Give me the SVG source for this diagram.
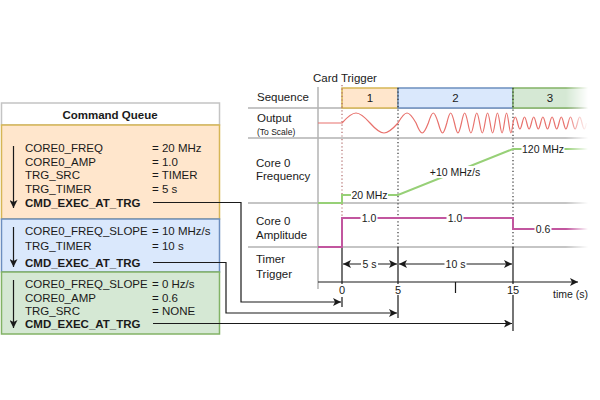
<svg xmlns="http://www.w3.org/2000/svg" width="600" height="400" viewBox="0 0 600 400">
<style>
.t{font-family:"Liberation Sans",Arial,sans-serif;font-size:11.5px;fill:#1a1a1a}
.s{font-size:10.5px}
.b{font-weight:bold}
.m{text-anchor:middle}
.row{stroke:#b3b3b3;stroke-width:1.5;fill:none}
.blk{stroke:#1a1a1a;stroke-width:1.2;fill:none}
.dot{stroke:#333;stroke-width:1.2;stroke-dasharray:1.2 2.4;fill:none}
.bg{fill:#fff}
</style>
<defs>
<marker id="ah" viewBox="0 0 10 10" refX="10" refY="5" markerWidth="8" markerHeight="8" markerUnits="userSpaceOnUse" orient="auto-start-reverse">
<path d="M0,0 L10,5 L0,10 L2.5,5 z" fill="#1a1a1a"/>
</marker>
<linearGradient id="fg" gradientUnits="userSpaceOnUse" x1="566" y1="0" x2="588" y2="0">
<stop offset="0" stop-color="#fff"/>
<stop offset="1" stop-color="#000"/>
</linearGradient>
<mask id="fade" maskUnits="userSpaceOnUse" x="0" y="0" width="600" height="400">
<rect x="0" y="0" width="600" height="400" fill="url(#fg)"/>
</mask>
</defs>

<!-- Command queue -->
<g id="queue-header">
<rect x="1.5" y="103" width="218" height="22" fill="#fff" stroke="#c4c4c4" stroke-width="1.5"/>
<text class="t b m" x="110" y="119">Command Queue</text>
</g>
<g id="block-1">
<rect x="1.5" y="125" width="218" height="94" fill="#ffe6cc" stroke="#d6b656" stroke-width="1.5"/>
<line class="blk" x1="13.5" y1="146" x2="13.5" y2="208" marker-end="url(#ah)"/>
<text class="t" x="25" y="152">CORE0_FREQ</text><text class="t" x="152" y="152">= 20 MHz</text>
<text class="t" x="25" y="166">CORE0_AMP</text><text class="t" x="152" y="166">= 1.0</text>
<text class="t" x="25" y="179">TRG_SRC</text><text class="t" x="152" y="179">= TIMER</text>
<text class="t" x="25" y="192.5">TRG_TIMER</text><text class="t" x="152" y="192.5">= 5 s</text>
<text class="t b" x="25" y="206.5">CMD_EXEC_AT_TRG</text>
</g>
<g id="block-2">
<rect x="1.5" y="219" width="218" height="53" fill="#dae8fc" stroke="#6c8ebf" stroke-width="1.5"/>
<line class="blk" x1="13.5" y1="227" x2="13.5" y2="267" marker-end="url(#ah)"/>
<text class="t" x="25" y="234.5">CORE0_FREQ_SLOPE</text><text class="t" x="152" y="234.5">= 10 MHz/s</text>
<text class="t" x="25" y="250">TRG_TIMER</text><text class="t" x="152" y="250">= 10 s</text>
<text class="t b" x="25" y="266.5">CMD_EXEC_AT_TRG</text>
</g>
<g id="block-3">
<rect x="1.5" y="272" width="218" height="62" fill="#d5e8d4" stroke="#82b366" stroke-width="1.5"/>
<line class="blk" x1="13.5" y1="280" x2="13.5" y2="328" marker-end="url(#ah)"/>
<text class="t" x="25" y="288">CORE0_FREQ_SLOPE</text><text class="t" x="152" y="288">= 0 Hz/s</text>
<text class="t" x="25" y="301.5">CORE0_AMP</text><text class="t" x="152" y="301.5">= 0.6</text>
<text class="t" x="25" y="314.5">TRG_SRC</text><text class="t" x="152" y="314.5">= NONE</text>
<text class="t b" x="25" y="327.5">CMD_EXEC_AT_TRG</text>
</g>

<!-- Timeline frame -->
<g id="timeline-frame">
<path class="row" d="M248,108 H588 M248,138 H588 M248,203 H588 M248,247 H588" mask="url(#fade)"/>
<line x1="318" y1="87" x2="318" y2="289" stroke="#b3b3b3" stroke-width="1.5"/>
<text class="t" x="257" y="101">Sequence</text>
<text class="t" x="257" y="122">Output</text>
<text class="t" x="257" y="134.5" style="font-size:8.5px">(To Scale)</text>
<text class="t" x="256" y="167">Core 0</text>
<text class="t" x="256" y="180">Frequency</text>
<text class="t" x="256" y="225">Core 0</text>
<text class="t" x="256" y="239">Amplitude</text>
<text class="t" x="256" y="263">Timer</text>
<text class="t" x="256" y="278">Trigger</text>
<text class="t m" x="345" y="82">Card Trigger</text>
</g>

<g id="seq-1">
<rect x="342" y="88" width="56" height="20" fill="#ffe6cc" stroke="#d6b656" stroke-width="1.5"/>
<text class="t m" x="370" y="102">1</text>
</g>
<g id="seq-2">
<rect x="398" y="88" width="115" height="20" fill="#dae8fc" stroke="#6c8ebf" stroke-width="1.5"/>
<text class="t m" x="455.5" y="102">2</text>
</g>
<g id="seq-3">
<g mask="url(#fade)">
<rect x="513" y="88" width="76" height="20" fill="#d5e8d4"/>
<path d="M590,88 H513 V108 H590" fill="none" stroke="#82b366" stroke-width="1.5"/>
</g>
<text class="t m" x="550" y="102">3</text>
</g>

<g id="markers">
<path class="dot" d="M342,85 V218" style="stroke:#b06a6a"/>
<path class="dot" d="M398,88 V247 M513,88 V247"/>
<path class="blk" d="M342,247 V284 M398,247 V284 M513,247 V284 M455.5,282 V293 M342,297 V307 M398,295 V318 M513,295 V331"/>
</g>

<g id="output-wave">
<path fill="none" stroke="#e8716c" stroke-width="1.2" mask="url(#fade)" d="M318,123 H342 c 11.88,-13.33 16.12,-13.33 28,0 c 11.88,13.33 16.12,13.33 28,0
c 7.66,-13.33 10.40,-13.33 18.06,0
c 5.20,13.33 7.06,13.33 12.26,0
c 4.21,-13.33 5.72,-13.33 9.93,0
c 3.64,13.33 4.93,13.33 8.57,0
c 3.25,-13.33 4.40,-13.33 7.65,0
c 2.96,13.33 4.01,13.33 6.97,0
c 2.74,-13.33 3.71,-13.33 6.45,0
c 2.56,13.33 3.48,13.33 6.04,0
c 2.41,-13.33 3.27,-13.33 5.68,0
c 2.29,13.33 3.10,13.33 5.39,0
c 2.18,-13.33 2.96,-13.33 5.14,0
c 2.09,13.33 2.83,13.33 4.92,0
c 2.01,-13.33 2.72,-13.33 4.73,0
c 1.93,13.33 2.62,13.33 4.55,0
c 1.87,-13.33 2.53,-13.33 4.40,0
c 1.81,13.33 2.45,13.33 4.26,0
c 1.95,-8 2.65,-8 4.6,0 c 1.95,8 2.65,8 4.6,0
c 1.95,-8 2.65,-8 4.6,0 c 1.95,8 2.65,8 4.6,0
c 1.95,-8 2.65,-8 4.6,0 c 1.95,8 2.65,8 4.6,0
c 1.95,-8 2.65,-8 4.6,0 c 1.95,8 2.65,8 4.6,0
c 1.95,-8 2.65,-8 4.6,0 c 1.95,8 2.65,8 4.6,0
c 1.95,-8 2.65,-8 4.6,0 c 1.95,8 2.65,8 4.6,0
c 1.95,-8 2.65,-8 4.6,0 c 1.95,8 2.65,8 4.6,0
c 1.95,-8 2.65,-8 4.6,0 c 1.95,8 2.65,8 4.6,0"/>
</g>

<g id="frequency-trace">
<path fill="none" stroke="#97d077" stroke-width="2" mask="url(#fade)" d="M318,203 H342 V195 H398 L513,149 H590"/>
<rect class="bg" x="351" y="189" width="37" height="12"/>
<text class="t s m" x="369.5" y="198.7">20 MHz</text>
<rect class="bg" x="429.5" y="166" width="51" height="12"/>
<text class="t s m" x="455" y="175.7">+10 MHz/s</text>
<rect class="bg" x="521.5" y="143" width="43" height="12"/>
<text class="t s m" x="543" y="152.7">120 MHz</text>
</g>

<g id="amplitude-trace">
<path fill="none" stroke="#c2569f" stroke-width="2" mask="url(#fade)" d="M318,247 H342 V218 H513 V229 H590"/>
<rect class="bg" x="360.5" y="212" width="17" height="12"/>
<text class="t s m" x="369" y="221.7">1.0</text>
<rect class="bg" x="446.5" y="212" width="17" height="12"/>
<text class="t s m" x="455" y="221.7">1.0</text>
<rect class="bg" x="534.5" y="223" width="17" height="12"/>
<text class="t s m" x="543" y="232.7">0.6</text>
</g>

<g id="timer-trigger">
<line class="blk" x1="343" y1="264" x2="397" y2="264" marker-start="url(#ah)" marker-end="url(#ah)"/>
<rect class="bg" x="361" y="258" width="17" height="12"/>
<text class="t s m" x="369.5" y="267.7">5 s</text>
<line class="blk" x1="399" y1="264" x2="512" y2="264" marker-start="url(#ah)" marker-end="url(#ah)"/>
<rect class="bg" x="444.5" y="258" width="22" height="12"/>
<text class="t s m" x="455.5" y="267.7">10 s</text>
</g>

<g id="time-axis">
<line class="blk" x1="318" y1="282" x2="578" y2="282" marker-end="url(#ah)"/>
<text class="t m" x="342" y="294" style="font-size:11px">0</text>
<text class="t m" x="398" y="294" style="font-size:11px">5</text>
<text class="t m" x="513" y="294" style="font-size:11px">15</text>
<text class="t" x="553" y="298" style="font-size:10.5px">time (s)</text>
</g>

<g id="connectors">
<path class="blk" d="M153,202.5 H241 V302 H341" marker-end="url(#ah)"/>
<path class="blk" d="M153,262.5 H226 V313 H397" marker-end="url(#ah)"/>
<path class="blk" d="M153,323.5 H512" marker-end="url(#ah)"/>
</g>
</svg>
